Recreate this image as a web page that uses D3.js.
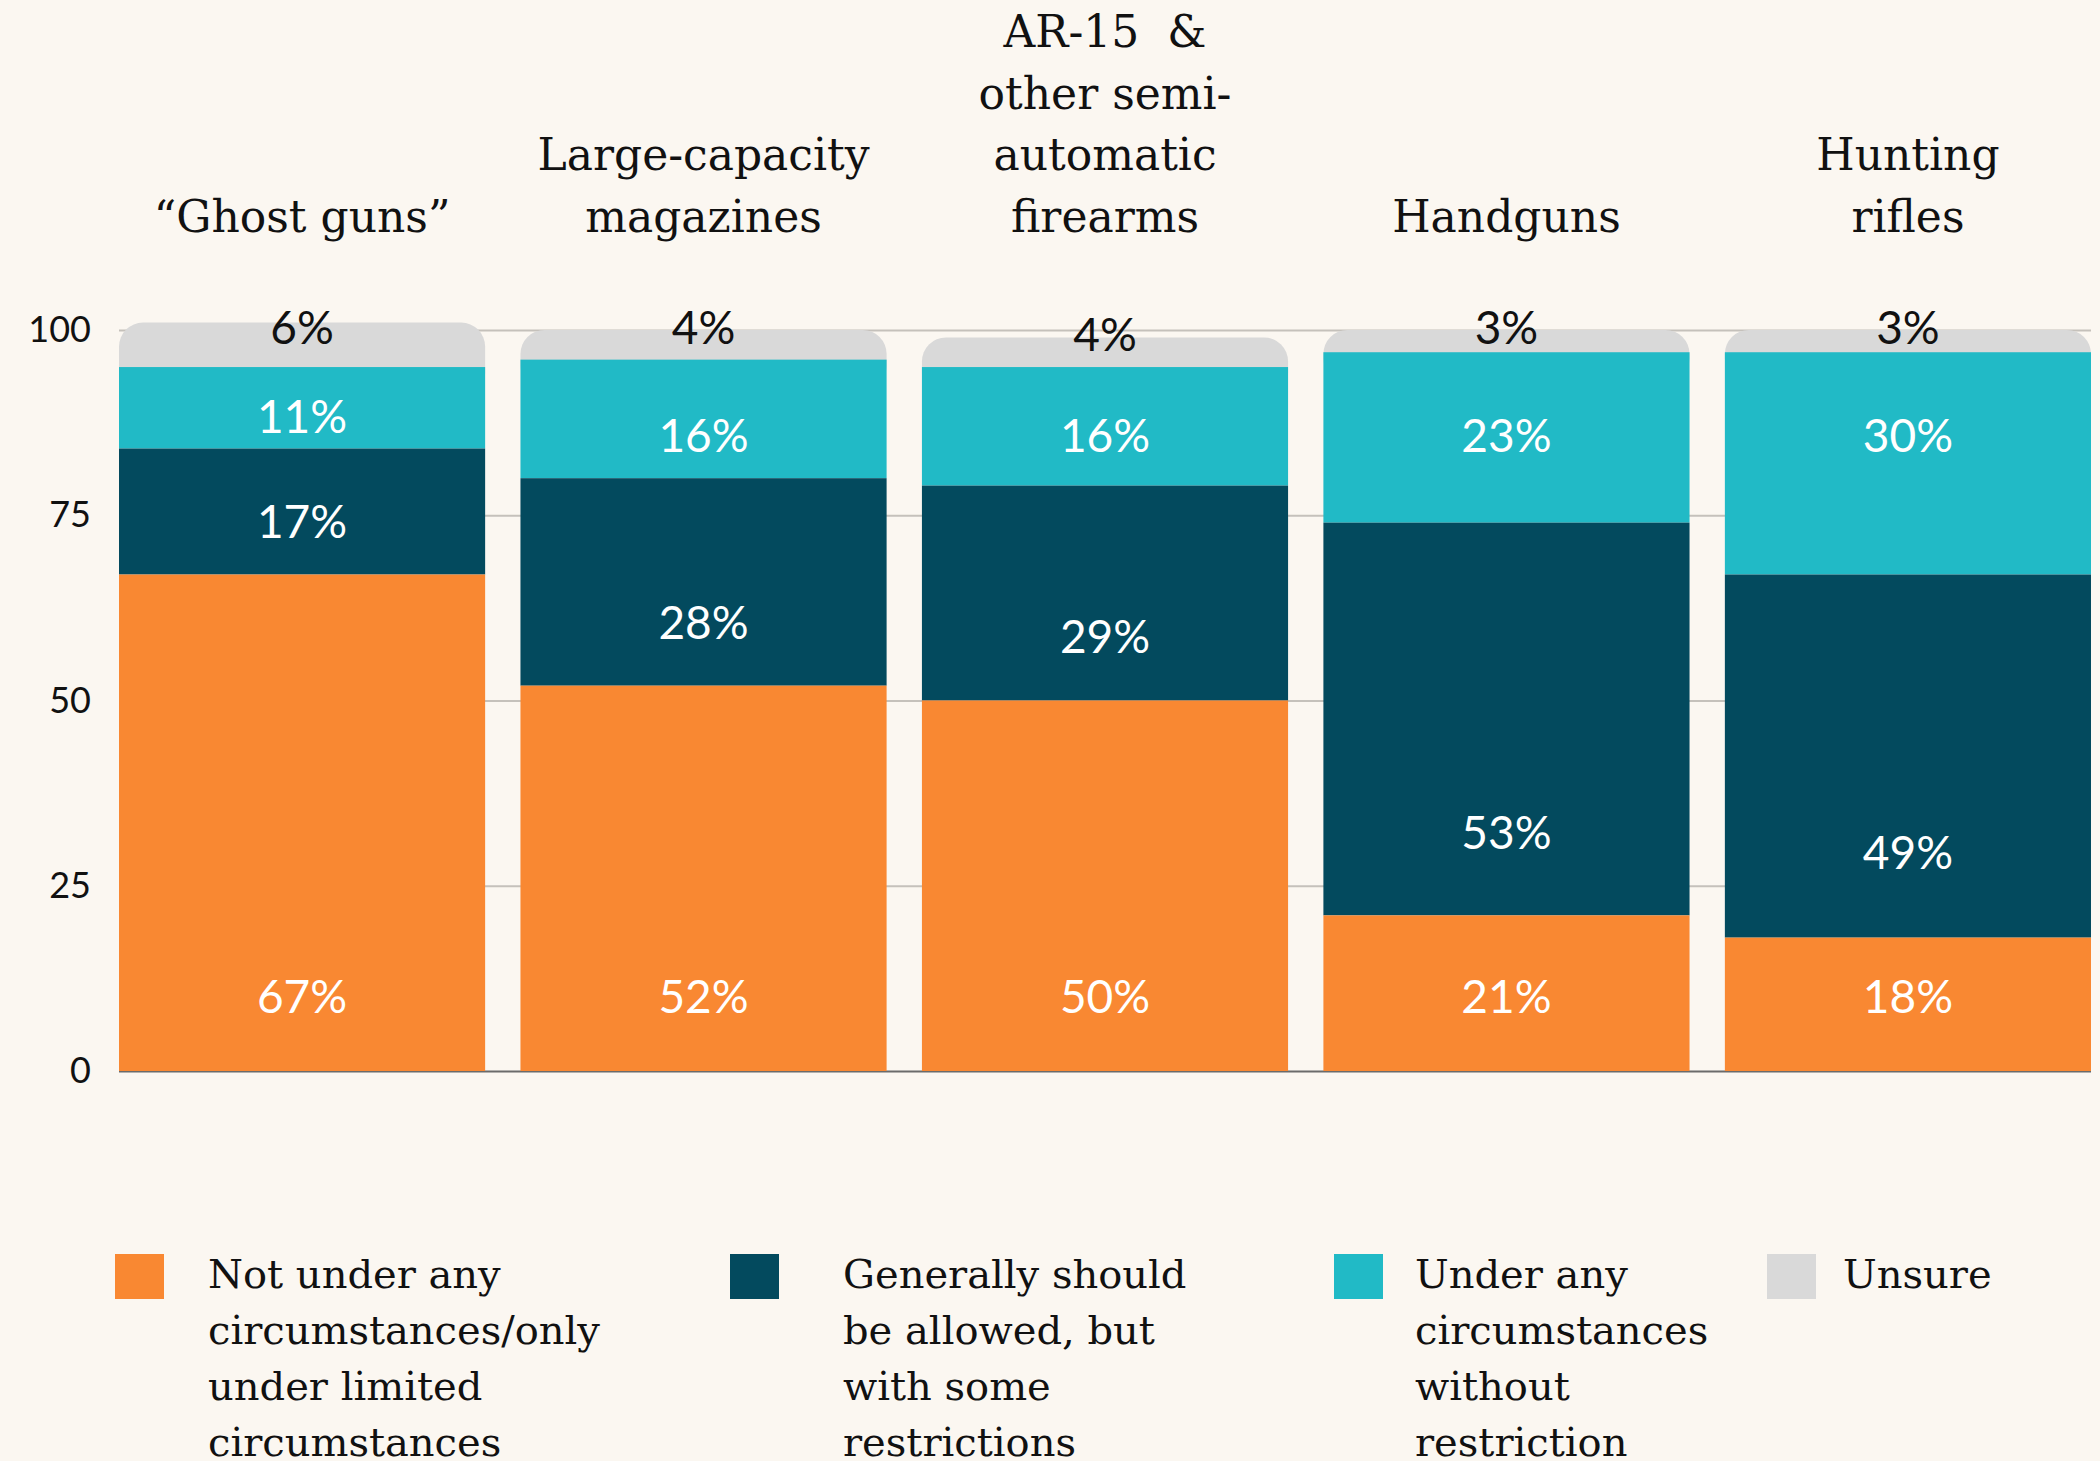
<!DOCTYPE html>
<html>
<head>
<meta charset="utf-8">
<script src="https://cdn.jsdelivr.net/npm/d3@7"></script>
<style>
  body { margin: 0; background: #fbf7f1; }
  svg { display: block; }
</style>
</head>
<body>
<svg></svg>
<script>
var width = 2100;
var height = 1461;

// data
var categories = ["ghost", "magazines", "ar15", "handguns", "rifles"];
var titleLines = [
    ["\u201cGhost guns\u201d"],
    ["Large-capacity", "magazines"],
    ["AR-15  &", "other semi-", "automatic", "firearms"],
    ["Handguns"],
    ["Hunting", "rifles"]
];
var notAllowed = [67, 52, 50, 21, 18];
var withRestrictions = [17, 28, 29, 53, 49];
var withoutRestriction = [11, 16, 16, 23, 30];
var unsure = [6, 4, 4, 3, 3];
var yTicks = [0, 25, 50, 75, 100];

var seriesKeys = ["notAllowed", "withRestrictions", "withoutRestriction", "unsure"];
var seriesColors = ["#f98832", "#034a5e", "#21bac6", "#d9d9d9"];
var legendLabels = [
    ["Not under any", "circumstances/only", "under limited", "circumstances"],
    ["Generally should", "be allowed, but", "with some", "restrictions"],
    ["Under any", "circumstances", "without", "restriction"],
    ["Unsure"]
];

var rows = categories.map(function(c, i) {
    return {
        cat: c,
        notAllowed: notAllowed[i],
        withRestrictions: withRestrictions[i],
        withoutRestriction: withoutRestriction[i],
        unsure: unsure[i]
    };
});

var svg = d3.select("svg")
    .attr("width", width)
    .attr("height", height);

svg.append("rect").attr("width", width).attr("height", height).attr("fill", "#fbf7f1");

var x = d3.scaleBand().domain(categories).range([119, 2091]).paddingInner(0.088).paddingOuter(0);
var y = d3.scaleLinear().domain([0, 100]).range([1071, 330]);

var numFont = "Lato, 'Open Sans', sans-serif";
var serifFont = "'DejaVu Serif', serif";

// gridlines + y labels
var yAxis = svg.append("g")
    .attr("transform", "translate(119,0)")
    .call(d3.axisLeft(y).tickValues(yTicks).tickSize(-1972).tickPadding(28));
yAxis.select(".domain").remove();
yAxis.selectAll(".tick line")
    .attr("stroke", function(d) { return d === 0 ? "#6b6b6b" : "#c5c1bb"; })
    .attr("stroke-width", 2);
yAxis.selectAll(".tick text")
    .attr("font-family", numFont)
    .attr("font-size", 36)
    .attr("fill", "#111");

// stacked bars
var stacked = d3.stack().keys(seriesKeys)(rows);

var layers = svg.selectAll("g.layer")
    .data(stacked.slice().reverse())
    .enter().append("g")
    .attr("class", "layer")
    .attr("fill", function(d) { return seriesColors[seriesKeys.indexOf(d.key)]; });

layers.selectAll("rect")
    .data(function(d) { return d.map(function(v) { return { key: d.key, v: v }; }); })
    .enter().append("rect")
    .attr("x", function(d) { return x(d.v.data.cat); })
    .attr("width", x.bandwidth())
    .attr("y", function(d) { return y(d.v[1]); })
    .attr("height", function(d) {
        var h = y(d.v[0]) - y(d.v[1]);
        return d.key === "unsure" ? h + 30 : h;
    })
    .attr("rx", function(d) { return d.key === "unsure" ? 24 : 0; });

// segment labels
function labelY(key, v) {
    var b = v[0];
    if (key === "notAllowed") return y(0) - 75;
    if (key === "withRestrictions") return y(0.912 * b + 13.1);
    if (key === "withoutRestriction") return y(Math.max(85.8, b + 4.3));
    return y(Math.min(v[1], 100)) - 3;
}

stacked.forEach(function(s) {
    svg.append("g").selectAll("text")
        .data(s)
        .enter().append("text")
        .attr("x", function(d) { return x(d.data.cat) + x.bandwidth() / 2; })
        .attr("y", function(d) { return labelY(s.key, d); })
        .attr("dy", "0.36em")
        .attr("text-anchor", "middle")
        .attr("font-family", numFont)
        .attr("font-size", 46)
        .attr("fill", s.key === "unsure" ? "#111" : "#fff")
        .text(function(d) { return (d[1] - d[0]) + "%"; });
});

// category titles above bars
var titles = svg.append("g").selectAll("text")
    .data(categories)
    .enter().append("text")
    .attr("text-anchor", "middle")
    .attr("font-family", serifFont)
    .attr("font-size", 44)
    .attr("fill", "#111")
    .style("white-space", "pre")
    .attr("transform", function(d) { return "translate(" + (x(d) + x.bandwidth() / 2) + ",0)"; });

titles.each(function(d, i) {
    var lines = titleLines[i];
    d3.select(this).selectAll("tspan")
        .data(lines)
        .enter().append("tspan")
        .attr("x", 0)
        .attr("y", function(l, j) { return 232 - (lines.length - 1 - j) * 61.7; })
        .text(function(l) { return l; });
});

// legend
var legendSwatchX = [115, 730, 1334, 1767];
var legendTextX = [208, 843, 1415, 1843];

var legend = svg.append("g").selectAll("g")
    .data(seriesKeys)
    .enter().append("g");

legend.append("rect")
    .attr("x", function(d, i) { return legendSwatchX[i]; })
    .attr("y", 1254)
    .attr("width", 49)
    .attr("height", 45)
    .attr("fill", function(d, i) { return seriesColors[i]; });

legend.append("text")
    .attr("font-family", serifFont)
    .attr("font-size", 40)
    .attr("fill", "#111")
    .each(function(d, i) {
        d3.select(this).selectAll("tspan")
            .data(legendLabels[i])
            .enter().append("tspan")
            .attr("x", legendTextX[i])
            .attr("y", function(l, j) { return 1288 + j * 56; })
            .text(function(l) { return l; });
    });
</script>
</body>
</html>
